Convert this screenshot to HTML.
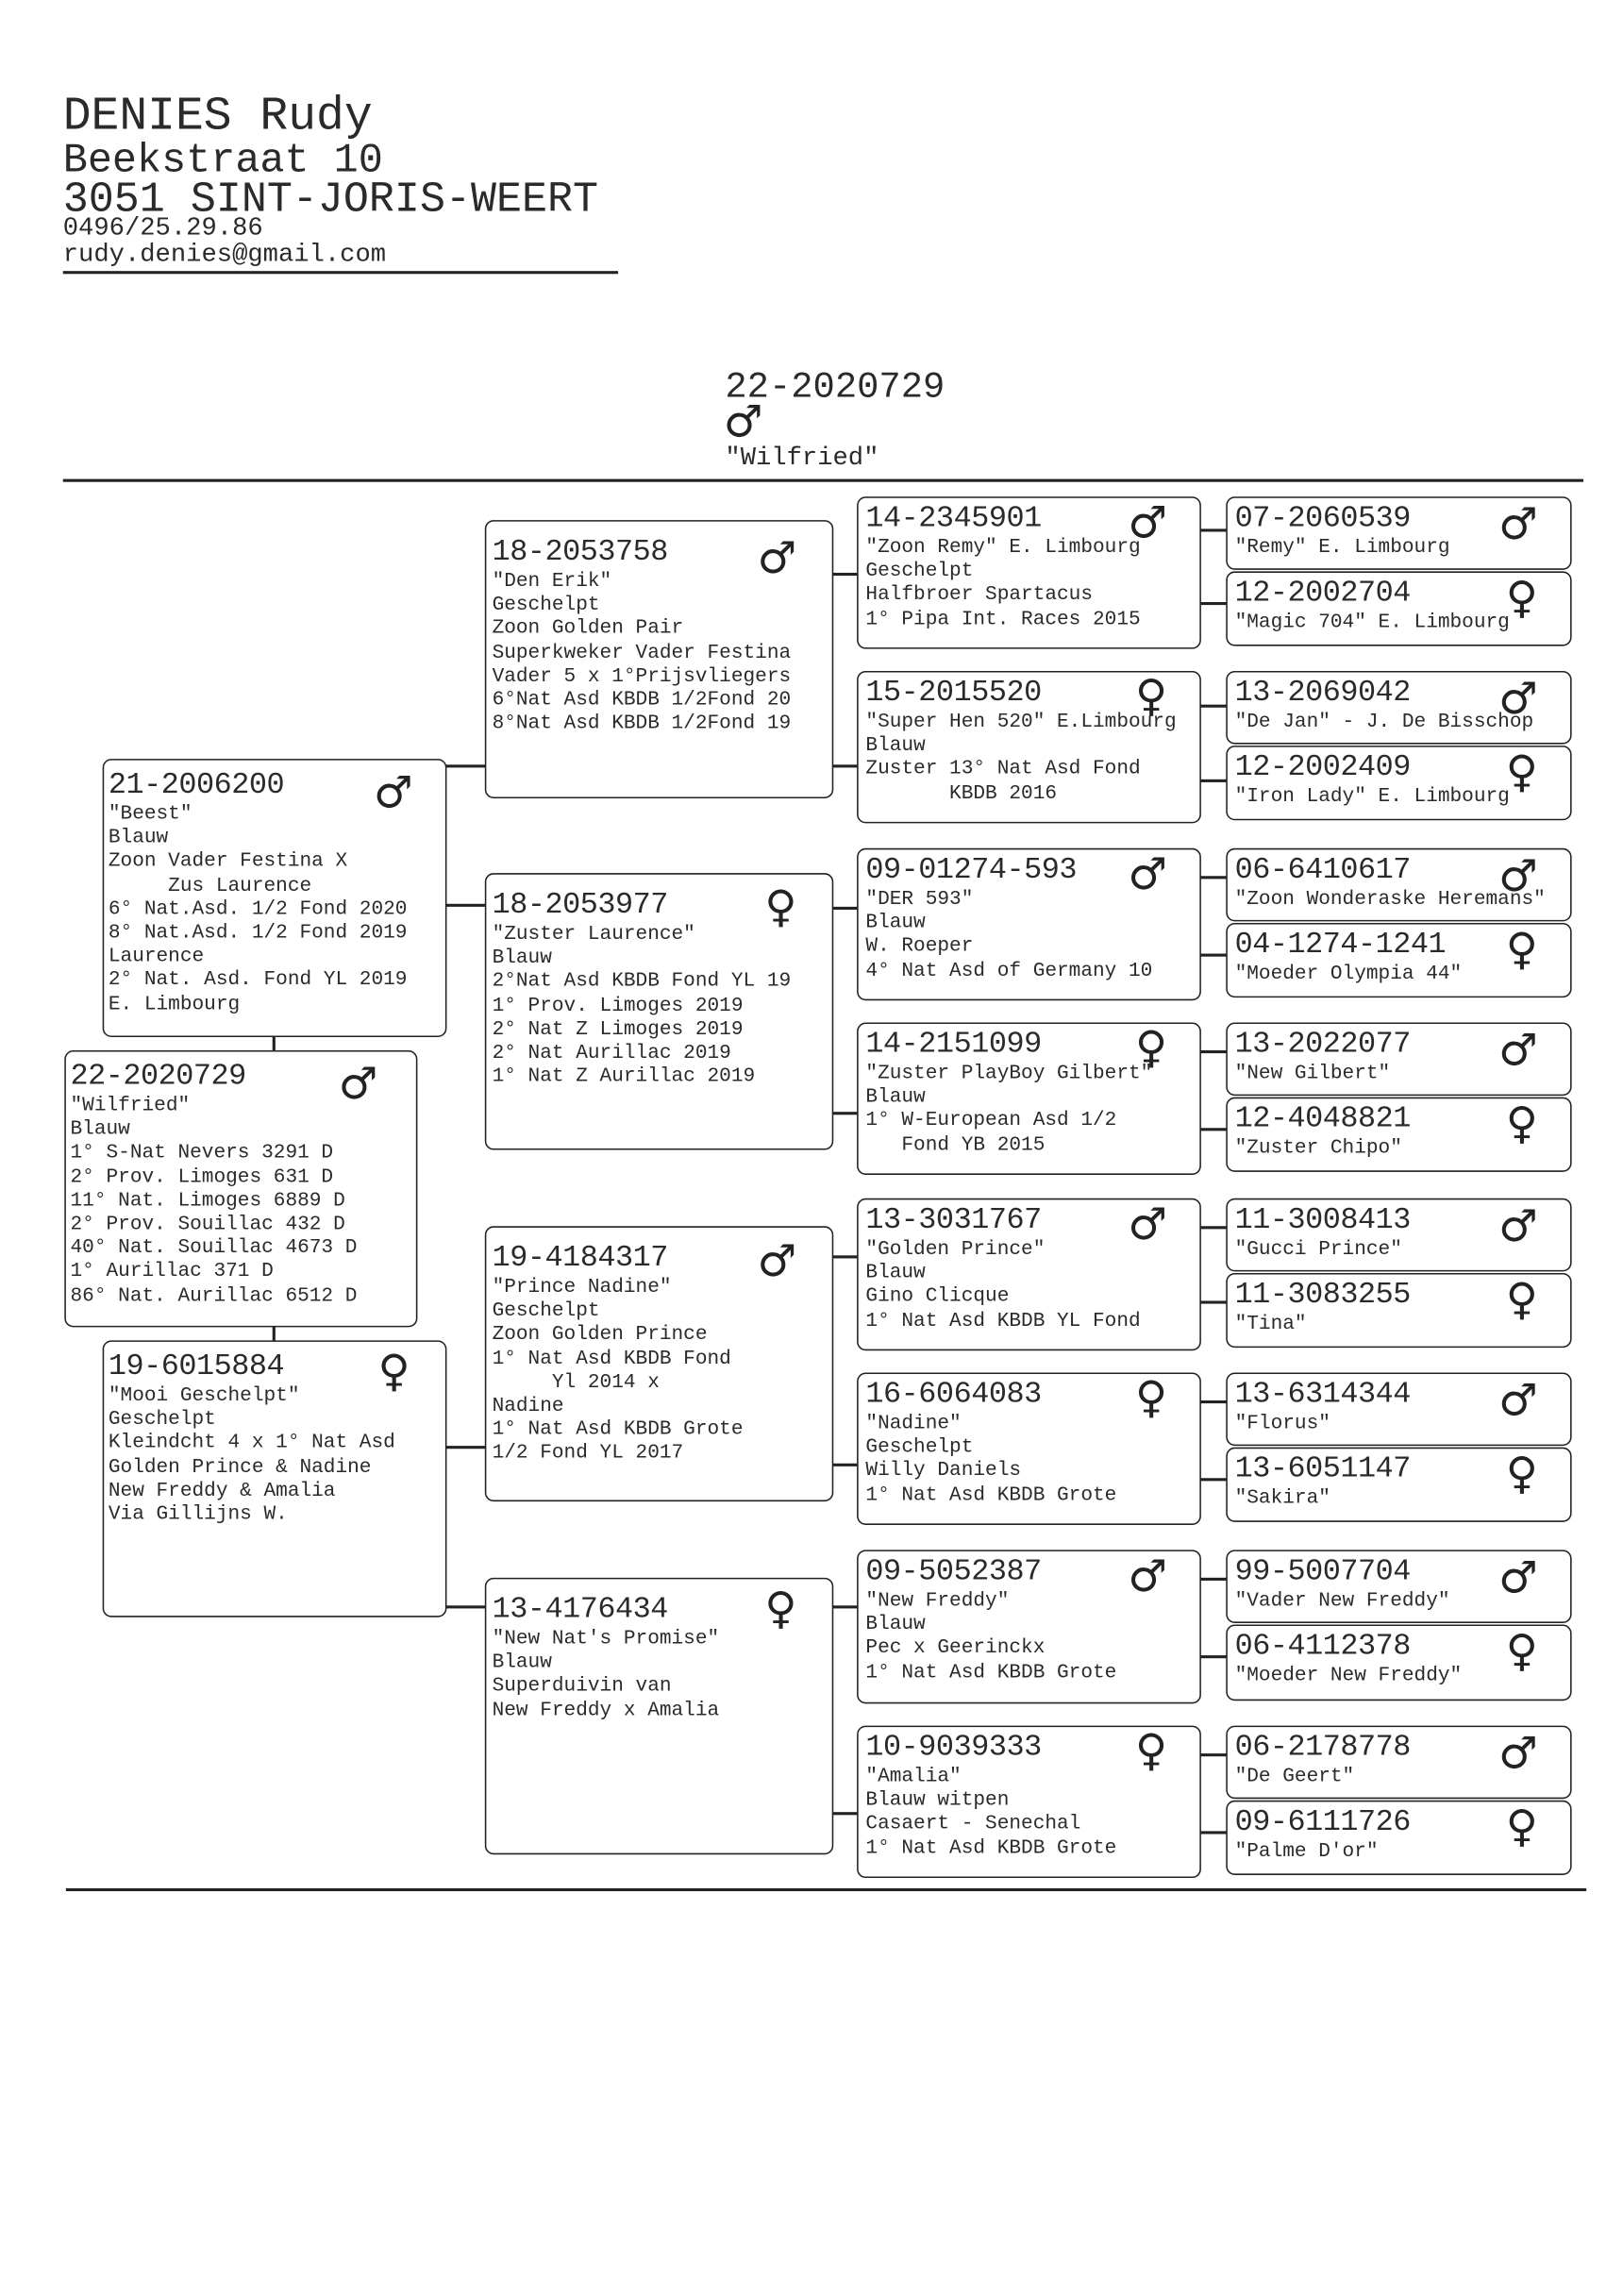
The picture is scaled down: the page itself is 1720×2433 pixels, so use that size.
<!DOCTYPE html>
<html><head><meta charset="utf-8">
<style>
html,body{margin:0;padding:0;background:#fff;}
body{width:1720px;height:2433px;overflow:hidden;position:relative;}
#w{position:absolute;left:0;top:0;width:1108px;height:1567px;transform:scale(1.5523);transform-origin:0 0;font-family:"Liberation Mono","DejaVu Sans Mono",monospace;color:#2a2a2a;}
.t{position:absolute;white-space:pre;line-height:1;}
.b{position:absolute;border:1.8px solid #222;border-radius:6px;box-sizing:border-box;background:#fff;}
.b .in{position:absolute;left:4px;right:0;white-space:pre;}
.id{font-size:20.5px;line-height:24px;letter-spacing:-0.3px;}
.ln{font-size:13.6px;line-height:16.2px;}
.s{position:absolute;font-family:"DejaVu Sans",sans-serif;font-weight:bold;font-size:30px;line-height:30px;color:#222;}
.h{position:absolute;height:1.6px;background:#222;}
.v{position:absolute;width:1.6px;background:#222;}
</style></head><body><div id="w">
<div class="t" style="left:43px;top:64px;font-size:32px;">DENIES Rudy</div>
<div class="t" style="left:43px;top:97px;font-size:28px;">Beekstraat 10</div>
<div class="t" style="left:43px;top:122px;font-size:29px;">3051 SINT-JORIS-WEERT</div>
<div class="t" style="left:43px;top:148px;font-size:17.5px;">0496/25.29.86</div>
<div class="t" style="left:43px;top:166px;font-size:17.5px;">rudy.denies@gmail.com</div>
<div class="h" style="left:43px;top:185px;width:379px;"></div>
<div class="t" style="left:495px;top:252px;font-size:25px;">22-2020729</div>
<div class="s" style="left:494px;top:274px;">♂</div>
<div class="t" style="left:495px;top:305px;font-size:17.5px;">"Wilfried"</div>
<div class="h" style="left:43px;top:327px;width:1038px;"></div>
<div class="h" style="left:45px;top:1289px;width:1038px;"></div>

<div class="v" style="left:186px;top:706px;height:12px;"></div>
<div class="v" style="left:186px;top:904px;height:12px;"></div>
<div class="h" style="left:303px;top:522px;width:29px;"></div>
<div class="h" style="left:303px;top:617px;width:29px;"></div>
<div class="h" style="left:303px;top:987px;width:29px;"></div>
<div class="h" style="left:303px;top:1096px;width:29px;"></div>
<div class="h" style="left:567px;top:391px;width:19px;"></div>
<div class="h" style="left:567px;top:522px;width:19px;"></div>
<div class="h" style="left:567px;top:619px;width:19px;"></div>
<div class="h" style="left:567px;top:759px;width:19px;"></div>
<div class="h" style="left:567px;top:857px;width:19px;"></div>
<div class="h" style="left:567px;top:999px;width:19px;"></div>
<div class="h" style="left:567px;top:1096px;width:19px;"></div>
<div class="h" style="left:567px;top:1237px;width:19px;"></div>
<div class="h" style="left:819px;top:361px;width:19px;"></div>
<div class="h" style="left:819px;top:411px;width:19px;"></div>
<div class="h" style="left:819px;top:481px;width:19px;"></div>
<div class="h" style="left:819px;top:532px;width:19px;"></div>
<div class="h" style="left:819px;top:598px;width:19px;"></div>
<div class="h" style="left:819px;top:651px;width:19px;"></div>
<div class="h" style="left:819px;top:717px;width:19px;"></div>
<div class="h" style="left:819px;top:770px;width:19px;"></div>
<div class="h" style="left:819px;top:837px;width:19px;"></div>
<div class="h" style="left:819px;top:888px;width:19px;"></div>
<div class="h" style="left:819px;top:956px;width:19px;"></div>
<div class="h" style="left:819px;top:1009px;width:19px;"></div>
<div class="h" style="left:819px;top:1077px;width:19px;"></div>
<div class="h" style="left:819px;top:1130px;width:19px;"></div>
<div class="h" style="left:819px;top:1197px;width:19px;"></div>
<div class="h" style="left:819px;top:1250px;width:19px;"></div>

<div class="b" style="left:44px;top:717px;width:241px;height:189px;"><div class="in" style="top:6px;left:3px"><div class="id">22-2020729</div><div class="ln">"Wilfried"
Blauw
1° S-Nat Nevers 3291 D
2° Prov. Limoges 631 D
11° Nat. Limoges 6889 D
2° Prov. Souillac 432 D
40° Nat. Souillac 4673 D
1° Aurillac 371 D
86° Nat. Aurillac 6512 D</div></div><div class="s" style="right:26px;top:8px">♂</div></div>

<div class="b" style="left:70px;top:518px;width:235px;height:190px;"><div class="in" style="top:6px;left:3px"><div class="id">21-2006200</div><div class="ln">"Beest"
Blauw
Zoon Vader Festina X
     Zus Laurence
6° Nat.Asd. 1/2 Fond 2020
8° Nat.Asd. 1/2 Fond 2019
Laurence
2° Nat. Asd. Fond YL 2019
E. Limbourg</div></div><div class="s" style="right:22px;top:8px">♂</div></div>
<div class="b" style="left:70px;top:915px;width:235px;height:189px;"><div class="in" style="top:6px;left:3px"><div class="id">19-6015884</div><div class="ln">"Mooi Geschelpt"
Geschelpt
Kleindcht 4 x 1° Nat Asd
Golden Prince &amp; Nadine
New Freddy &amp; Amalia
Via Gillijns W.</div></div><div class="s" style="right:24px;top:6px">♀</div></div>

<div class="b" style="left:331px;top:355px;width:238px;height:190px;"><div class="in" style="top:10px"><div class="id">18-2053758</div><div class="ln">"Den Erik"
Geschelpt
Zoon Golden Pair
Superkweker Vader Festina
Vader 5 x 1°Prijsvliegers
6°Nat Asd KBDB 1/2Fond 20
8°Nat Asd KBDB 1/2Fond 19</div></div><div class="s" style="right:24px;top:11px">♂</div></div>
<div class="b" style="left:331px;top:596px;width:238px;height:189px;"><div class="in" style="top:10px"><div class="id">18-2053977</div><div class="ln">"Zuster Laurence"
Blauw
2°Nat Asd KBDB Fond YL 19
1° Prov. Limoges 2019
2° Nat Z Limoges 2019
2° Nat Aurillac 2019
1° Nat Z Aurillac 2019</div></div><div class="s" style="right:24px;top:8px">♀</div></div>
<div class="b" style="left:331px;top:837px;width:238px;height:188px;"><div class="in" style="top:10px"><div class="id">19-4184317</div><div class="ln">"Prince Nadine"
Geschelpt
Zoon Golden Prince
1° Nat Asd KBDB Fond
     Yl 2014 x
Nadine
1° Nat Asd KBDB Grote
1/2 Fond YL 2017</div></div><div class="s" style="right:24px;top:9px">♂</div></div>
<div class="b" style="left:331px;top:1077px;width:238px;height:189px;"><div class="in" style="top:10px"><div class="id">13-4176434</div><div class="ln">"New Nat's Promise"
Blauw
Superduivin van
New Freddy x Amalia</div></div><div class="s" style="right:24px;top:6px">♀</div></div>

<div class="b" style="left:585px;top:339px;width:235px;height:104px;"><div class="in" style="top:3px;left:5px"><div class="id">14-2345901</div><div class="ln">"Zoon Remy" E. Limbourg
Geschelpt
Halfbroer Spartacus
1° Pipa Int. Races 2015</div></div><div class="s" style="right:22px;top:3px">♂</div></div>
<div class="b" style="left:585px;top:458px;width:235px;height:104px;"><div class="in" style="top:3px;left:5px"><div class="id">15-2015520</div><div class="ln">"Super Hen 520" E.Limbourg
Blauw
Zuster 13° Nat Asd Fond
       KBDB 2016</div></div><div class="s" style="right:22px;top:2px">♀</div></div>
<div class="b" style="left:585px;top:579px;width:235px;height:104px;"><div class="in" style="top:3px;left:5px"><div class="id">09-01274-593</div><div class="ln">"DER 593"
Blauw
W. Roeper
4° Nat Asd of Germany 10</div></div><div class="s" style="right:22px;top:3px">♂</div></div>
<div class="b" style="left:585px;top:698px;width:235px;height:104px;"><div class="in" style="top:3px;left:5px"><div class="id">14-2151099</div><div class="ln">"Zuster PlayBoy Gilbert"
Blauw
1° W-European Asd 1/2
   Fond YB 2015</div></div><div class="s" style="right:22px;top:2px">♀</div></div>
<div class="b" style="left:585px;top:818px;width:235px;height:104px;"><div class="in" style="top:3px;left:5px"><div class="id">13-3031767</div><div class="ln">"Golden Prince"
Blauw
Gino Clicque
1° Nat Asd KBDB YL Fond</div></div><div class="s" style="right:22px;top:3px">♂</div></div>
<div class="b" style="left:585px;top:937px;width:235px;height:104px;"><div class="in" style="top:3px;left:5px"><div class="id">16-6064083</div><div class="ln">"Nadine"
Geschelpt
Willy Daniels
1° Nat Asd KBDB Grote</div></div><div class="s" style="right:22px;top:2px">♀</div></div>
<div class="b" style="left:585px;top:1058px;width:235px;height:105px;"><div class="in" style="top:3px;left:5px"><div class="id">09-5052387</div><div class="ln">"New Freddy"
Blauw
Pec x Geerinckx
1° Nat Asd KBDB Grote</div></div><div class="s" style="right:22px;top:3px">♂</div></div>
<div class="b" style="left:585px;top:1178px;width:235px;height:104px;"><div class="in" style="top:3px;left:5px"><div class="id">10-9039333</div><div class="ln">"Amalia"
Blauw witpen
Casaert - Senechal
1° Nat Asd KBDB Grote</div></div><div class="s" style="right:22px;top:2px">♀</div></div>

<div class="b" style="left:837px;top:339px;width:236px;height:50px;"><div class="in" style="top:3px;left:5px"><div class="id">07-2060539</div><div class="ln">"Remy" E. Limbourg</div></div><div class="s" style="right:22px;top:4px">♂</div></div>
<div class="b" style="left:837px;top:390px;width:236px;height:51px;"><div class="in" style="top:3px;left:5px"><div class="id">12-2002704</div><div class="ln">"Magic 704" E. Limbourg</div></div><div class="s" style="right:22px;top:3px">♀</div></div>
<div class="b" style="left:837px;top:458px;width:236px;height:50px;"><div class="in" style="top:3px;left:5px"><div class="id">13-2069042</div><div class="ln">"De Jan" - J. De Bisschop</div></div><div class="s" style="right:22px;top:4px">♂</div></div>
<div class="b" style="left:837px;top:509px;width:236px;height:51px;"><div class="in" style="top:3px;left:5px"><div class="id">12-2002409</div><div class="ln">"Iron Lady" E. Limbourg</div></div><div class="s" style="right:22px;top:3px">♀</div></div>
<div class="b" style="left:837px;top:579px;width:236px;height:50px;"><div class="in" style="top:3px;left:5px"><div class="id">06-6410617</div><div class="ln">"Zoon Wonderaske Heremans"</div></div><div class="s" style="right:22px;top:4px">♂</div></div>
<div class="b" style="left:837px;top:630px;width:236px;height:51px;"><div class="in" style="top:3px;left:5px"><div class="id">04-1274-1241</div><div class="ln">"Moeder Olympia 44"</div></div><div class="s" style="right:22px;top:3px">♀</div></div>
<div class="b" style="left:837px;top:698px;width:236px;height:50px;"><div class="in" style="top:3px;left:5px"><div class="id">13-2022077</div><div class="ln">"New Gilbert"</div></div><div class="s" style="right:22px;top:4px">♂</div></div>
<div class="b" style="left:837px;top:749px;width:236px;height:51px;"><div class="in" style="top:3px;left:5px"><div class="id">12-4048821</div><div class="ln">"Zuster Chipo"</div></div><div class="s" style="right:22px;top:3px">♀</div></div>
<div class="b" style="left:837px;top:818px;width:236px;height:50px;"><div class="in" style="top:3px;left:5px"><div class="id">11-3008413</div><div class="ln">"Gucci Prince"</div></div><div class="s" style="right:22px;top:4px">♂</div></div>
<div class="b" style="left:837px;top:869px;width:236px;height:51px;"><div class="in" style="top:3px;left:5px"><div class="id">11-3083255</div><div class="ln">"Tina"</div></div><div class="s" style="right:22px;top:3px">♀</div></div>
<div class="b" style="left:837px;top:937px;width:236px;height:50px;"><div class="in" style="top:3px;left:5px"><div class="id">13-6314344</div><div class="ln">"Florus"</div></div><div class="s" style="right:22px;top:4px">♂</div></div>
<div class="b" style="left:837px;top:988px;width:236px;height:51px;"><div class="in" style="top:3px;left:5px"><div class="id">13-6051147</div><div class="ln">"Sakira"</div></div><div class="s" style="right:22px;top:3px">♀</div></div>
<div class="b" style="left:837px;top:1058px;width:236px;height:50px;"><div class="in" style="top:3px;left:5px"><div class="id">99-5007704</div><div class="ln">"Vader New Freddy"</div></div><div class="s" style="right:22px;top:4px">♂</div></div>
<div class="b" style="left:837px;top:1109px;width:236px;height:52px;"><div class="in" style="top:3px;left:5px"><div class="id">06-4112378</div><div class="ln">"Moeder New Freddy"</div></div><div class="s" style="right:22px;top:3px">♀</div></div>
<div class="b" style="left:837px;top:1178px;width:236px;height:50px;"><div class="in" style="top:3px;left:5px"><div class="id">06-2178778</div><div class="ln">"De Geert"</div></div><div class="s" style="right:22px;top:4px">♂</div></div>
<div class="b" style="left:837px;top:1229px;width:236px;height:51px;"><div class="in" style="top:3px;left:5px"><div class="id">09-6111726</div><div class="ln">"Palme D'or"</div></div><div class="s" style="right:22px;top:3px">♀</div></div>
</div></body></html>
